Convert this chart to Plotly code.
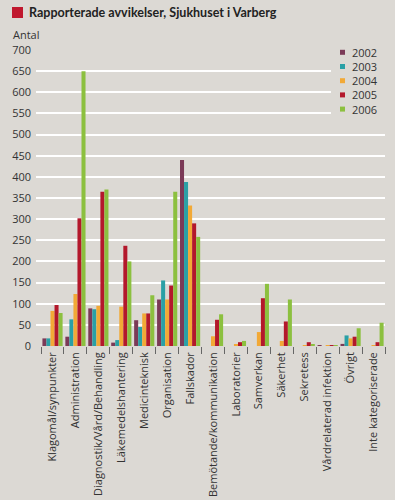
import plotly.graph_objects as go

categories = ["Klagomål/synpunkter", "Administration", "Diagnostik/Vård/Behandling",
              "Läkemedelshantering", "Medicinteknisk", "Organisation", "Fallskador",
              "Bemötande/kommunikation", "Laboratorier", "Samverkan", "Säkerhet",
              "Sekretess", "Vårdrelaterad infektion", "Övrigt", "Inte kategoriserade"]

years = ["2002", "2003", "2004", "2005", "2006"]

v2002 = [18, 22, 89, 8, 61, 110, 440, 0, 0, 0, 0, 0, 1, 5, 0]
v2003 = [18, 63, 87, 14, 45, 155, 388, 0, 0, 0, 0, 0, 0, 25, 0]
v2004 = [83, 123, 95, 93, 77, 110, 332, 23, 3, 33, 12, 2, 1, 18, 2]
v2005 = [97, 302, 365, 237, 77, 143, 290, 62, 9, 113, 58, 9, 2, 22, 9]
v2006 = [78, 650, 370, 200, 120, 365, 258, 75, 12, 147, 110, 4, 1, 42, 55]

series = [v2002, v2003, v2004, v2005, v2006]
colors = ["#7b3a57", "#2aa0a6", "#f2a936", "#b3182b", "#8cc03f"]

bg = "#dcd9d4"
font_family = "Open Sans, sans-serif"

W, H = 395, 500
L, R, T, B = 36, 10, 50, 154
PW, PH = W - L - R, H - T - B


def px(x):
    return (x - L) / PW


def py(y):
    return (H - B - y) / PH


fig = go.Figure()
for y, vals, c in zip(years, series, colors):
    fig.add_trace(go.Bar(x=categories, y=vals, name=y, marker_color=c,
                         marker_line_width=0, showlegend=False))

fig.update_layout(
    width=W, height=H,
    paper_bgcolor=bg, plot_bgcolor=bg,
    margin=dict(l=L, r=R, t=T, b=B, autoexpand=False),
    barmode="group", bargap=0.12, bargroupgap=0,
    font=dict(family=font_family, size=11, color="#333333"),
    showlegend=False,
    xaxis=dict(showgrid=False, ticks="outside", tickson="boundaries",
               ticklen=7, tickcolor="#666666", tickwidth=1,
               range=[-0.72, 14.5],
               tickangle=-90, showline=False, zeroline=False,
               ticklabelstandoff=3,
               tickfont=dict(size=11, color="#333333")),
    yaxis=dict(range=[0, 700], dtick=50, showgrid=True, gridcolor="#ffffff",
               gridwidth=1.5, zeroline=False, showline=False, ticks="",
               ticklabelstandoff=4,
               tickfont=dict(size=11, color="#333333")),
)

# mask behind the legend (gridlines stop before the legend)
fig.add_shape(type="rect", xref="paper", yref="paper",
              x0=px(331), x1=px(W), y0=py(122), y1=py(44),
              fillcolor=bg, line_width=0, layer="above")

# manual legend
for i, (y, c) in enumerate(zip(years, colors)):
    yc = 52.3 + i * 14.2
    fig.add_shape(type="rect", xref="paper", yref="paper",
                  x0=px(340), x1=px(345), y0=py(yc + 2.5), y1=py(yc - 2.5),
                  fillcolor=c, line_width=0, layer="above")
    fig.add_annotation(text=y, xref="paper", yref="paper", x=px(350), y=py(yc),
                       xanchor="left", yanchor="middle", showarrow=False,
                       font=dict(size=11, color="#333333"))

# Title with red square
fig.add_shape(type="rect", xref="paper", yref="paper",
              x0=px(12), x1=px(23), y0=py(18), y1=py(7),
              fillcolor="#c0182e", line_width=0)
fig.add_annotation(text="<b>Rapporterade avvikelser, Sjukhuset i Varberg</b>",
                   xref="paper", yref="paper", x=px(27), y=py(12.5),
                   xanchor="left", yanchor="middle", showarrow=False,
                   font=dict(size=12.5, color="#222222", family="Lato, sans-serif"))
fig.add_annotation(text="Antal", xref="paper", yref="paper",
                   x=px(11), y=py(34), xanchor="left", yanchor="middle",
                   showarrow=False, font=dict(size=11, color="#333333"))

fig.write_html("out.html",
               config={"displayModeBar": False},
               post_script="document.body.style.margin='0';"
                           "document.body.style.overflow='hidden';")
